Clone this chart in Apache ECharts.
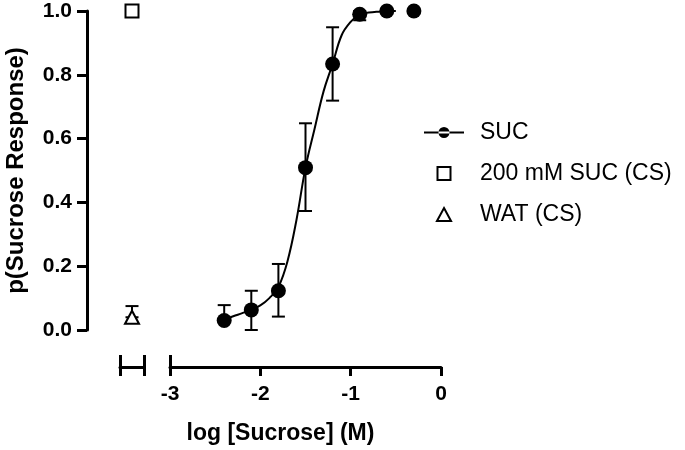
<!DOCTYPE html>
<html>
<head>
<meta charset="utf-8">
<script src="https://cdn.jsdelivr.net/npm/echarts@6/dist/echarts.min.js"></script>
<style>
  html, body { margin: 0; padding: 0; background: #fff; }
  #chart { width: 685px; height: 450px; }
</style>
</head>
<body>
<div id="chart"></div>
<script>
// SUC dose-response points (log M) with error bar ends
var sucX = [-2.4, -2.1, -1.8, -1.5, -1.2, -0.9, -0.6, -0.3];
var sucY = [0.03, 0.063, 0.123, 0.509, 0.834, 0.99, 1.0, 1.0];
var sucErrLow = [0.03, 0.0, 0.042, 0.373, 0.719, 0.971, 1.0, 1.0];
var sucErrHigh = [0.078, 0.123, 0.207, 0.648, 0.949, 1.0, 1.0, 1.0];

// fitted curve
var fitX = [-2.4, -2.3, -2.2, -2.1, -2.0, -1.9, -1.8, -1.7, -1.6, -1.5, -1.4, -1.3, -1.2, -1.1, -1.0, -0.9, -0.8, -0.7, -0.6, -0.5];
var fitY = [0.032, 0.043, 0.053, 0.064, 0.077, 0.1, 0.135, 0.215, 0.345, 0.509, 0.63, 0.748, 0.834, 0.924, 0.966, 0.99, 0.995, 0.998, 1.0, 1.0];

// controls, drawn on the short separate axis
var ctrlX = 0.5;
var cs200Y = 1.0;
var watY = 0.04;
var watErrHigh = 0.075;

var xTicks = [-3, -2, -1, 0];
var yTicks = [0, 0.2, 0.4, 0.6, 0.8, 1.0];

var myChart = echarts.init(document.getElementById("chart"));

var font = "Liberation Sans";
var black = "#000";

function errBar(params, api) {
  var x = api.value(0);
  var top = api.coord([x, api.value(2)]);
  var bot = api.coord([x, api.value(1)]);
  var half = 6.5;
  var st = { stroke: black, lineWidth: 2 };
  return {
    type: "group",
    children: [
      { type: "line", shape: { x1: top[0], y1: top[1], x2: bot[0], y2: bot[1] }, style: st },
      { type: "line", shape: { x1: top[0] - half, y1: top[1], x2: top[0] + half, y2: top[1] }, style: st },
      { type: "line", shape: { x1: bot[0] - half, y1: bot[1], x2: bot[0] + half, y2: bot[1] }, style: st }
    ]
  };
}

var axisLine = { show: true, onZero: false, lineStyle: { color: black, width: 3 } };
var noLine = { show: false, onZero: false };

var option = {
  animation: false,
  backgroundColor: "#fff",
  textStyle: { fontFamily: font, color: black },
  grid: [
    { left: 170, top: 11, width: 271, height: 319 },
    { left: 120, top: 11, width: 24, height: 319 }
  ],
  legend: {
    orient: "vertical",
    left: 419,
    top: 116,
    itemWidth: 40,
    itemHeight: 13,
    itemGap: 18,
    textStyle: { fontFamily: font, fontSize: 23, color: black, padding: [0, 0, 0, 11] },
    data: [
      { name: "SUC", icon: "path://M0,4.5H40V6.5H0Z M14.5,5.5A5.5,5.5,0,1,0,25.5,5.5A5.5,5.5,0,1,0,14.5,5.5Z",
        itemStyle: { color: black, borderWidth: 0 } },
      { name: "200 mM SUC (CS)", icon: "path://M0,0H12V12H0Z",
        itemStyle: { color: "#fff", borderColor: black, borderWidth: 2 } },
      { name: "WAT (CS)", icon: "path://M6.5,0L13,12L0,12Z",
        itemStyle: { color: "#fff", borderColor: black, borderWidth: 2 } }
    ]
  },
  xAxis: [
    {
      gridIndex: 0, type: "value", min: -3, max: 0, interval: 1,
      position: "bottom", offset: 37,
      axisLine: axisLine,
      axisTick: { show: true, length: 9, lineStyle: { color: black, width: 3 } },
      axisLabel: { margin: 17, fontSize: 21, fontWeight: "bold", color: black, fontFamily: font,
        customValues: xTicks },
      splitLine: { show: false },
      name: "log [Sucrose] (M)",
      nameLocation: "middle",
      nameGap: 55,
      nameTextStyle: { fontSize: 23, fontWeight: "bold", color: black, fontFamily: font, padding: [0, 50, 0, 0] }
    },
    {
      gridIndex: 0, type: "value", min: -3, max: 0, interval: 1,
      position: "bottom", offset: 37,
      axisLine: noLine,
      axisTick: { show: true, inside: true, length: 12, customValues: [-3], lineStyle: { color: black, width: 3 } },
      axisLabel: { show: false },
      splitLine: { show: false }
    },
    {
      gridIndex: 1, type: "value", min: 0, max: 1, interval: 1,
      position: "bottom", offset: 37,
      axisLine: axisLine,
      axisTick: { show: true, length: 9, lineStyle: { color: black, width: 3 } },
      axisLabel: { show: false },
      splitLine: { show: false }
    },
    {
      gridIndex: 1, type: "value", min: 0, max: 1, interval: 1,
      position: "bottom", offset: 37,
      axisLine: noLine,
      axisTick: { show: true, inside: true, length: 12, lineStyle: { color: black, width: 3 } },
      axisLabel: { show: false },
      splitLine: { show: false }
    }
  ],
  yAxis: [
    {
      gridIndex: 0, type: "value", min: 0, max: 1, interval: 0.2,
      position: "left", offset: 83,
      axisLine: axisLine,
      axisTick: { show: true, length: 10, lineStyle: { color: black, width: 3 } },
      axisLabel: {
        margin: 15, fontSize: 21, fontWeight: "bold", color: black, fontFamily: font,
        customValues: yTicks,
        formatter: function (v) { return v.toFixed(1); }
      },
      splitLine: { show: false },
      name: "p(Sucrose Response)",
      nameLocation: "middle",
      nameGap: 59,
      nameTextStyle: { fontSize: 24, fontWeight: "bold", color: black, fontFamily: font }
    },
    {
      gridIndex: 1, type: "value", min: 0, max: 1, show: false
    }
  ],
  series: [
    {
      name: "SUC",
      type: "line",
      xAxisIndex: 0, yAxisIndex: 0,
      smooth: 0.4,
      symbol: "none",
      color: black,
      lineStyle: { color: black, width: 2 },
      data: fitX.map(function (x, i) { return [x, fitY[i]]; }),
      z: 3
    },
    {
      name: "SUC err",
      type: "custom",
      xAxisIndex: 0, yAxisIndex: 0,
      renderItem: errBar,
      data: sucX.map(function (x, i) { return [x, sucErrLow[i], sucErrHigh[i]]; }),
      z: 2
    },
    {
      name: "SUC",
      type: "scatter",
      xAxisIndex: 0, yAxisIndex: 0,
      symbol: "circle",
      symbolSize: 15,
      itemStyle: { color: black, opacity: 1 },
      data: sucX.map(function (x, i) { return [x, sucY[i]]; }),
      z: 5
    },
    {
      name: "WAT err",
      type: "custom",
      xAxisIndex: 2, yAxisIndex: 1,
      renderItem: errBar,
      data: [[ctrlX, watY, watErrHigh]],
      z: 2
    },
    {
      name: "200 mM SUC (CS)",
      type: "scatter",
      xAxisIndex: 2, yAxisIndex: 1,
      symbol: "rect",
      symbolSize: 13,
      itemStyle: { color: "#fff", borderColor: black, borderWidth: 2, opacity: 1 },
      data: [[ctrlX, cs200Y]],
      z: 5
    },
    {
      name: "WAT (CS)",
      type: "scatter",
      xAxisIndex: 2, yAxisIndex: 1,
      symbol: "triangle",
      symbolSize: [14, 13],
      itemStyle: { color: "#fff", borderColor: black, borderWidth: 2, opacity: 1 },
      data: [[ctrlX, watY]],
      z: 5
    }
  ]
};

myChart.setOption(option);
</script>
</body>
</html>
